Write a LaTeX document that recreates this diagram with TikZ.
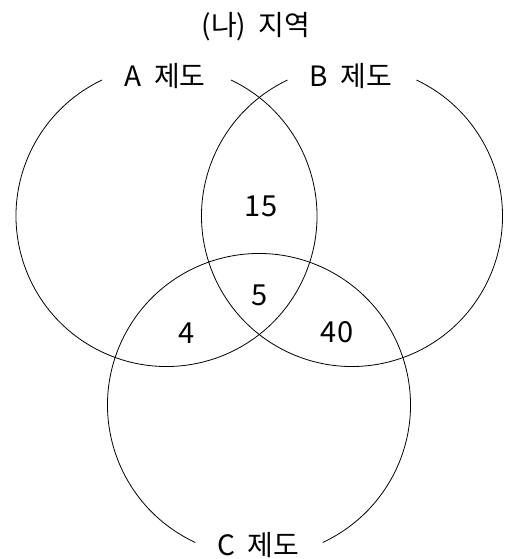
\documentclass[tikz,border=0pt]{standalone}
\usepackage{fontspec}
\setmainfont{Noto Sans CJK KR}[WordSpace=2]
\usetikzlibrary{positioning}

\begin{document}
\begin{tikzpicture}[
  x=1pt, y=-1pt,
  setline/.style={line width=0.8pt, black},
  setlabel/.style={font=\fontsize{28}{32}\selectfont, inner sep=0pt},
  count/.style={font=\fontsize{29}{32}\selectfont, inner sep=0pt}
]
\useasboundingbox (0,0) rectangle (505,559);
\coordinate (ca) at (166.5,216);
\coordinate (cb) at (352,216);
\coordinate (cc) at (259,405);

\draw[setline] ([shift={(295.4:150.5)}]ca) arc[start angle=295.4, end angle=604.6, radius=150.5];
\draw[setline] ([shift={(295.4:150.5)}]cb) arc[start angle=295.4, end angle=604.6, radius=150.5];
\draw[setline] ([shift={(114.9:151.5)}]cc) arc[start angle=114.9, end angle=425.1, radius=151.5];

\node[setlabel] (title) at (256,27) {(나) 지역};
\node[setlabel] (la) at (165,76) {A 제도};
\node[setlabel] (lb) at (351,76) {B 제도};
\node[setlabel] (lc) at (258,545) {C 제도};

\node[count] (ab) at (261,206) {15};
\node[count] (abc) at (260,295) {5};
\node[count] (ac) at (187,333) {4};
\node[count] (bc) at (337,332) {40};
\end{tikzpicture}
\end{document}
